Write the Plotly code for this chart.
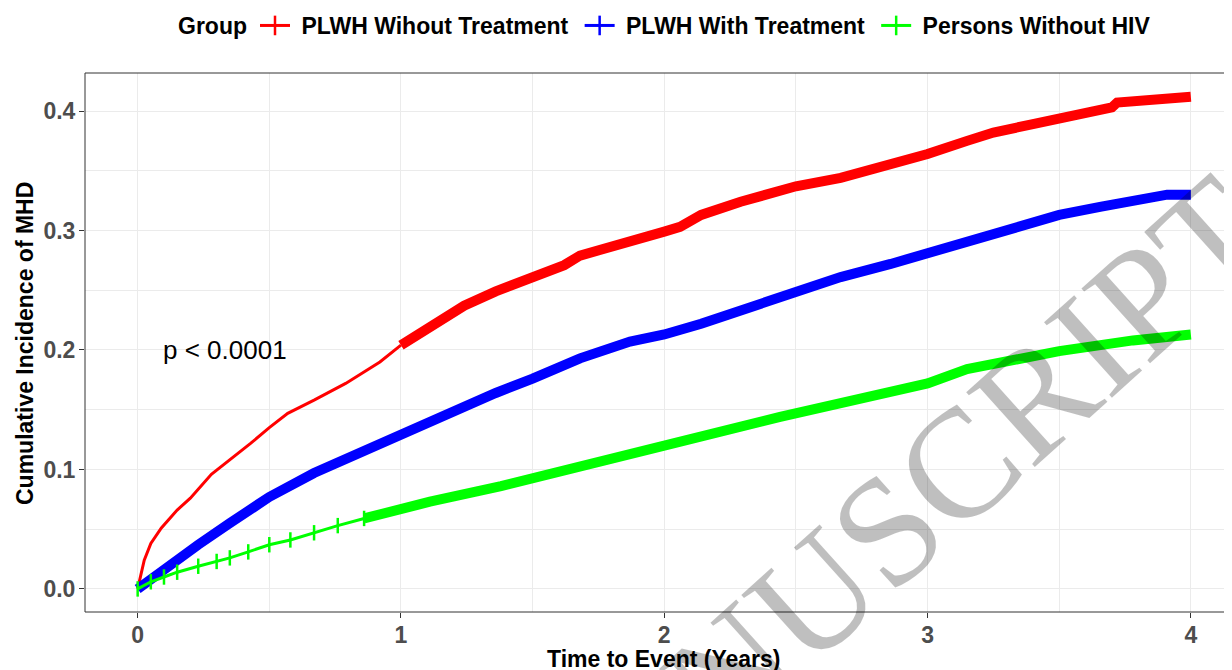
import plotly.graph_objects as go

# ---- data ----
groups = ["PLWH Wihout Treatment", "PLWH With Treatment", "Persons Without HIV"]
colors = ["#FF0000", "#0000FF", "#00FF00"]

t_red = [0, 0.025, 0.05, 0.09, 0.15, 0.2, 0.28, 0.35, 0.43, 0.5, 0.57, 0.67, 0.79, 0.92,
         1.0, 1.11, 1.24, 1.36, 1.5, 1.62, 1.68, 1.81, 1.93, 2.0, 2.06, 2.14, 2.29, 2.5,
         2.67, 2.86, 3.0, 3.15, 3.25, 3.4, 3.5, 3.6, 3.7, 3.72, 3.85, 3.94, 4.0]
ci_red = [0, 0.024, 0.038, 0.051, 0.066, 0.076, 0.096, 0.108, 0.122, 0.135, 0.147, 0.158,
          0.172, 0.19, 0.204, 0.219, 0.237, 0.249, 0.262, 0.271, 0.279, 0.288, 0.295, 0.299,
          0.303, 0.313, 0.324, 0.337, 0.344, 0.355, 0.364, 0.375, 0.382, 0.389, 0.394,
          0.398, 0.403, 0.407, 0.410, 0.412, 0.412]

t_blue = [0, 0.1, 0.23, 0.35, 0.5, 0.67, 0.86, 1.0, 1.17, 1.36, 1.5, 1.68, 1.87, 2.0, 2.14,
          2.29, 2.5, 2.67, 2.86, 3.0, 3.15, 3.28, 3.4, 3.5, 3.66, 3.78, 3.91, 4.0]
ci_blue = [0, 0.017, 0.037, 0.055, 0.077, 0.097, 0.116, 0.128, 0.147, 0.164, 0.176, 0.193,
           0.207, 0.213, 0.222, 0.233, 0.247, 0.261, 0.272, 0.281, 0.292, 0.300, 0.307,
           0.313, 0.320, 0.324, 0.330, 0.330]

t_green = [0, 0.05, 0.1, 0.15, 0.23, 0.3, 0.35, 0.42, 0.5, 0.58, 0.67, 0.76, 0.86, 0.93,
           1.0, 1.11, 1.38, 1.73, 2.0, 2.44, 3.0, 3.15, 3.5, 3.78, 4.0]
ci_green = [0, 0.006, 0.010, 0.014, 0.019, 0.023, 0.026, 0.031, 0.037, 0.041, 0.047, 0.053,
            0.059, 0.063, 0.066, 0.073, 0.086, 0.106, 0.120, 0.144, 0.172, 0.184, 0.199,
            0.208, 0.213]

# time from which censoring marks are so dense they form a thick band
dense_from = [1.0, 0.0, 0.86]

x_ticks = [0, 1, 2, 3, 4]
y_ticks = [0.0, 0.1, 0.2, 0.3, 0.4]
y_tick_labels = ["0.0", "0.1", "0.2", "0.3", "0.4"]
p_text = "p < 0.0001"

series = [(t_red, ci_red), (t_blue, ci_blue), (t_green, ci_green)]

fig = go.Figure()
for (t, ci), col, d0, name in zip(series, colors, dense_from, groups):
    thick_t = [a for a in t if a >= d0 - 1e-9]
    thick_y = [b for a, b in zip(t, ci) if a >= d0 - 1e-9]
    thin_t = [a for a in t if a <= thick_t[0] + 1e-9]
    thin_y = [b for a, b in zip(t, ci) if a <= thick_t[0] + 1e-9]
    if len(thin_t) > 1:
        sparse_marks = name == "Persons Without HIV"
        fig.add_trace(go.Scatter(
            x=thin_t, y=thin_y, mode="lines+markers" if sparse_marks else "lines",
            line=dict(color=col, width=3),
            marker=dict(symbol="line-ns", size=11, line=dict(color=col, width=2.5)),
            showlegend=False, hoverinfo="skip"))
    fig.add_trace(go.Scatter(
        x=thick_t, y=thick_y, mode="lines",
        line=dict(color=col, width=10),
        showlegend=False, hoverinfo="skip"))

# legend entries
for col, name in zip(colors, groups):
    fig.add_trace(go.Scatter(
        x=[None], y=[None], mode="lines+markers", name="\u00a0" + name + "\u00a0",
        line=dict(color=col, width=3),
        marker=dict(symbol="line-ns", size=14, line=dict(color=col, width=2.5))))

# The page body has an 8px margin, so the figure is sized to fill the window after it.
W, H = 1224, 662
L, R, T, B = 77, 0, 65, 58
PW, PH = W - L - R, H - T - B
px_per_year = 263.3
x_lo = -0.2
x_hi = x_lo + PW / px_per_year

border = "#333333"
grid = "#EBEBEB"
tickfont = dict(family="Liberation Sans, Arial", size=23, color="#4D4D4D", weight="bold")

fig.update_layout(
    width=W, height=H,
    margin=dict(l=L, r=R, t=T, b=B, autoexpand=False),
    plot_bgcolor="white", paper_bgcolor="white",
    font=dict(family="Liberation Sans, Arial", color="black"),
    legend=dict(
        orientation="h", x=(669 - 85) / PW, xanchor="center", yref="container",
        y=1 - 17.5 / H, yanchor="middle",
        title=dict(text="Group", side="left",
                   font=dict(family="Liberation Sans, Arial", size=23, weight="bold")),
        font=dict(family="Liberation Sans, Arial", size=23, color="black", weight="bold"),
        itemwidth=30, tracegroupgap=0),
    xaxis=dict(
        range=[x_lo, x_hi], tickvals=x_ticks, ticks="outside", ticklen=5,
        tickcolor=border, tickwidth=1, tickfont=tickfont, automargin=False,
        ticklabelstandoff=-3,
        showgrid=True, gridcolor=grid, gridwidth=1.2, zeroline=False,
        minor=dict(dtick=0.5, tick0=0, showgrid=True, gridcolor=grid, gridwidth=0.6, ticks=""),
        showline=False),
    yaxis=dict(
        range=[-0.0193, 0.4318], tickvals=y_ticks, ticktext=y_tick_labels,
        ticks="outside", ticklen=5, tickcolor=border, tickwidth=1, tickfont=tickfont,
        automargin=False, ticklabelstandoff=-1,
        showgrid=True, gridcolor=grid, gridwidth=1.2, zeroline=False,
        minor=dict(dtick=0.05, tick0=0, showgrid=True, gridcolor=grid, gridwidth=0.6, ticks=""),
        showline=False),
    shapes=[
        dict(type="line", xref="paper", yref="paper", x0=0, x1=0, y0=0, y1=1,
             line=dict(color=border, width=1)),
        dict(type="line", xref="paper", yref="paper", x0=0, x1=1, y0=1, y1=1,
             line=dict(color=border, width=1)),
        dict(type="line", xref="paper", yref="paper", x0=0, x1=1, y0=0, y1=0,
             line=dict(color=border, width=1)),
    ],
    annotations=[
        dict(text=p_text, x=0.087, y=0.2, xref="x", yref="y", xanchor="left",
             yanchor="middle", showarrow=False,
             font=dict(family="Liberation Sans, Arial", size=26, color="black")),
        dict(text="Time to Event (Years)", xref="paper", yref="paper",
             x=(664 - 85) / PW, y=(612 - 659) / PH,
             xanchor="center", yanchor="middle", showarrow=False,
             font=dict(family="Liberation Sans, Arial", size=23, color="black", weight="bold")),
        dict(text="Cumulative Incidence of MHD", xref="paper", yref="paper",
             x=(25 - 85) / PW, y=(612 - 344) / PH, textangle=-90,
             xanchor="center", yanchor="middle", showarrow=False,
             font=dict(family="Liberation Sans, Arial", size=23, color="black", weight="bold")),
        dict(text="MANUSCRIPT", xref="paper", yref="paper",
             x=(866 - L) / PW, y=(604 - 534) / PH, textangle=-42,
             xanchor="center", yanchor="middle", showarrow=False,
             font=dict(family="Liberation Serif, Times New Roman", size=155,
                       color="rgba(0,0,0,0.25)")),
    ],
)

fig.write_html("out.html")
